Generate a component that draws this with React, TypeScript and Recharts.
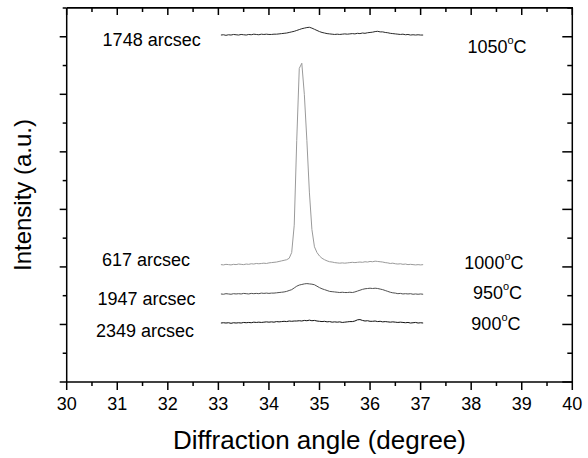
import React from 'react';
import { LineChart, Line, XAxis, YAxis, ReferenceDot, ReferenceLine } from 'recharts';

// 2-theta scan, 33.05 .. 37.05 deg
const angles = [
  33.05, 33.1, 33.15, 33.2, 33.25, 33.3, 33.35, 33.4, 33.45, 33.5,
  33.55, 33.6, 33.65, 33.7, 33.75, 33.8, 33.85, 33.9, 33.95, 34.0,
  34.05, 34.1, 34.15, 34.2, 34.25, 34.3, 34.35, 34.4, 34.45, 34.5,
  34.55, 34.6, 34.65, 34.7, 34.75, 34.8, 34.85, 34.9, 34.95, 35.0,
  35.05, 35.1, 35.15, 35.2, 35.25, 35.3, 35.35, 35.4, 35.45, 35.5,
  35.55, 35.6, 35.65, 35.7, 35.75, 35.8, 35.85, 35.9, 35.95, 36.0,
  36.05, 36.1, 36.15, 36.2, 36.25, 36.3, 36.35, 36.4, 36.45, 36.5,
  36.55, 36.6, 36.65, 36.7, 36.75, 36.8, 36.85, 36.9, 36.95, 37.0,
  37.05,
];

const i1050 = [
  12.06, 12.07, 12.05, 12.07, 12.06, 12.08, 12.07, 12.06, 12.08, 12.07,
  12.06, 12.08, 12.07, 12.09, 12.08, 12.07, 12.09, 12.08, 12.09, 12.08,
  12.08, 12.09, 12.09, 12.1, 12.11, 12.12, 12.13, 12.15, 12.17, 12.19,
  12.22, 12.25, 12.28, 12.3, 12.32, 12.33, 12.3, 12.26, 12.22, 12.18,
  12.15, 12.13, 12.11, 12.1, 12.09, 12.08, 12.09, 12.08, 12.09, 12.1,
  12.09, 12.1, 12.11, 12.1, 12.12, 12.11, 12.13, 12.12, 12.14, 12.15,
  12.16, 12.18, 12.19, 12.17, 12.17, 12.15, 12.14, 12.12, 12.11, 12.1,
  12.09, 12.08, 12.09, 12.07, 12.08, 12.06, 12.07, 12.06, 12.07, 12.06,
  12.06,
];

const i1000 = [
  4.08, 4.07, 4.09, 4.08, 4.07, 4.09, 4.08, 4.1, 4.09, 4.08,
  4.1, 4.09, 4.11, 4.1, 4.12, 4.11, 4.12, 4.13, 4.12, 4.14,
  4.15, 4.16, 4.17, 4.19, 4.21, 4.23, 4.25, 4.3, 4.5, 5.45,
  8.4, 10.9, 11.08, 10.0, 8.4, 6.6, 5.3, 4.7, 4.5, 4.38,
  4.3, 4.25, 4.21, 4.18, 4.17, 4.15, 4.14, 4.13, 4.14, 4.13,
  4.14, 4.15, 4.16, 4.15, 4.16, 4.17, 4.16, 4.18, 4.17, 4.19,
  4.18, 4.2, 4.19, 4.18, 4.17, 4.15, 4.14, 4.12, 4.13, 4.11,
  4.1, 4.11, 4.09, 4.1, 4.08, 4.09, 4.08, 4.07, 4.08, 4.07,
  4.08,
];

const i950 = [
  3.06, 3.05, 3.07, 3.06, 3.05, 3.07, 3.06, 3.07, 3.06, 3.08,
  3.07, 3.06, 3.08, 3.07, 3.08, 3.07, 3.09, 3.08, 3.09, 3.08,
  3.09, 3.09, 3.1, 3.11, 3.12, 3.13, 3.15, 3.18, 3.21, 3.27,
  3.33, 3.37, 3.39, 3.41, 3.42, 3.41, 3.4, 3.38, 3.33, 3.28,
  3.24, 3.21, 3.18, 3.15, 3.14, 3.13, 3.12, 3.11, 3.12, 3.11,
  3.11, 3.12, 3.11, 3.13, 3.16, 3.19, 3.22, 3.24, 3.25, 3.26,
  3.25, 3.26, 3.25, 3.23, 3.21, 3.18, 3.15, 3.12, 3.1, 3.09,
  3.07, 3.08, 3.06, 3.07, 3.06, 3.07, 3.05, 3.06, 3.05, 3.06,
  3.05,
];

const i900 = [
  2.05, 2.06, 2.05, 2.06, 2.04, 2.06, 2.05, 2.06, 2.05, 2.07,
  2.06, 2.07, 2.06, 2.08, 2.07, 2.08, 2.07, 2.08, 2.09, 2.08,
  2.09, 2.08, 2.1, 2.09, 2.1, 2.11, 2.1, 2.12, 2.11, 2.12,
  2.12, 2.13, 2.12, 2.14, 2.13, 2.15, 2.13, 2.14, 2.12, 2.11,
  2.1, 2.11, 2.09, 2.1, 2.08, 2.09, 2.08, 2.09, 2.07, 2.08,
  2.09, 2.1, 2.1, 2.12, 2.16, 2.17, 2.14, 2.12, 2.13, 2.11,
  2.11, 2.12, 2.1, 2.11, 2.09, 2.1, 2.09, 2.08, 2.09, 2.08,
  2.07, 2.08, 2.07, 2.06, 2.07, 2.05, 2.06, 2.07, 2.05, 2.06,
  2.05,
];

const xTicks = [
  30, 30.5, 31, 31.5, 32, 32.5, 33, 33.5, 34, 34.5, 35,
  35.5, 36, 36.5, 37, 37.5, 38, 38.5, 39, 39.5, 40,
];
const yTicks = [0, 1, 2, 3, 4, 5, 6, 7, 8, 9, 10, 11, 12, 13];

// annotations
const fwhmText = ['1748 arcsec', '617 arcsec', '1947 arcsec', '2349 arcsec'];
const fwhmAngle = [31.68, 31.57, 31.58, 31.55];
const fwhmLevel = [11.89, 4.24, 2.885, 1.77];
const tempText = ['1050', '1000', '950', '900'];
const tempAngle = [38.51, 38.45, 38.52, 38.49];
const tempLevel = [11.64, 4.14, 3.09, 2.02];

const data = angles.map((a, i) => ({
  angle: a,
  t1050: i1050[i],
  t1000: i1000[i],
  t950: i950[i],
  t900: i900[i],
}));

const FONT = 'Arial, "Liberation Sans", sans-serif';

// plot box, follows from the chart margins / axis sizes below
const W = 588;
const H = 458;
const M_TOP = 8;
const M_RIGHT = 15.7;
const X_AXIS_H = 76;
const Y_AXIS_W = 66.7;
const PLOT_TOP = M_TOP;
const PLOT_RIGHT = W - M_RIGHT;

// bottom ticks point out, the mirrored top ones point in
const BottomTick = ({ x, y, payload }: any) => {
  const major = Number.isInteger(payload.value);
  return (
    <g>
      <line x1={x} x2={x} y1={y} y2={y + (major ? 8 : 4)} stroke='#000' strokeWidth={1.5} />
      <line x1={x} x2={x} y1={PLOT_TOP} y2={PLOT_TOP + (major ? 7 : 4)} stroke='#000' strokeWidth={1.5} />
      {major && (
        <text x={x} y={y + 28} textAnchor='middle' fontSize={18} fill='#000'>
          {payload.value}
        </text>
      )}
    </g>
  );
};

// left ticks point out, the mirrored right ones point in
const LeftTick = ({ x, y, payload }: any) => {
  const major = payload.value % 2 === 0;
  return (
    <g>
      <line x1={x} x2={x - (major ? 7 : 4)} y1={y} y2={y} stroke='#000' strokeWidth={1.5} />
      <line x1={PLOT_RIGHT} x2={PLOT_RIGHT - (major ? 10 : 5)} y1={y} y2={y} stroke='#000' strokeWidth={1.5} />
    </g>
  );
};

const FwhmLabel = (text: string) => (p: any) => {
  const vb = p.viewBox || {};
  return (
    <text x={vb.x} y={vb.y} textAnchor='middle' dominantBaseline='central' fontSize={18} fill='#000'>
      {text}
    </text>
  );
};

const TempLabel = (text: string) => (p: any) => {
  const vb = p.viewBox || {};
  return (
    <text x={vb.x} y={vb.y} textAnchor='middle' dominantBaseline='central' fontSize={18} fill='#000'>
      {text}
      <tspan dy={-7} fontSize={11}>o</tspan>
      <tspan dy={7}>C</tspan>
    </text>
  );
};

export default function App() {
  return (
    <div style={{ position: 'fixed', left: 0, top: 0, width: W, height: H, background: '#fff' }}>
      <LineChart
        width={W}
        height={H}
        data={data}
        margin={{ top: M_TOP, right: M_RIGHT, bottom: 0, left: 0 }}
        style={{ fontFamily: FONT }}
      >
        <XAxis
          dataKey='angle'
          type='number'
          domain={[30, 40]}
          allowDataOverflow
          ticks={xTicks}
          interval={0}
          tickLine={false}
          tickSize={0}
          tickMargin={0}
          tick={BottomTick}
          height={X_AXIS_H}
          axisLine={{ stroke: '#000', strokeWidth: 1.5 }}
          label={{
            value: 'Diffraction angle (degree)',
            position: 'insideBottom',
            offset: 9,
            fontSize: 26,
            fill: '#000',
          }}
        />
        <YAxis
          type='number'
          domain={[0, 13]}
          allowDataOverflow
          ticks={yTicks}
          interval={0}
          tickLine={false}
          tickSize={0}
          tickMargin={0}
          tick={LeftTick}
          width={Y_AXIS_W}
          axisLine={{ stroke: '#000', strokeWidth: 1.5 }}
          label={{
            value: 'Intensity (a.u.)',
            angle: -90,
            position: 'insideLeft',
            offset: 22,
            fontSize: 24,
            fill: '#000',
            style: { textAnchor: 'middle' },
          }}
        />

        {/* top and right edges of the frame */}
        <ReferenceLine y={13} stroke='#000' strokeWidth={1.5} ifOverflow='visible' />
        <ReferenceLine x={40} stroke='#000' strokeWidth={1.5} ifOverflow='visible' />

        {/* scans */}
        <Line dataKey='t1050' stroke='#2a2a2a' strokeWidth={1} dot={false} isAnimationActive={false} />
        <Line dataKey='t1000' stroke='#9a9a9a' strokeWidth={1} dot={false} isAnimationActive={false} />
        <Line dataKey='t950' stroke='#505050' strokeWidth={1} dot={false} isAnimationActive={false} />
        <Line dataKey='t900' stroke='#111' strokeWidth={1} dot={false} isAnimationActive={false} />

        {/* FWHM and temperature labels */}
        {fwhmText.map((t, i) => (
          <ReferenceDot
            key={'f' + i}
            x={fwhmAngle[i]}
            y={fwhmLevel[i]}
            r={0}
            fill='none'
            stroke='none'
            label={{ content: FwhmLabel(t) }}
          />
        ))}
        {tempText.map((t, i) => (
          <ReferenceDot
            key={'t' + i}
            x={tempAngle[i]}
            y={tempLevel[i]}
            r={0}
            fill='none'
            stroke='none'
            label={{ content: TempLabel(t) }}
          />
        ))}
      </LineChart>
      {/* fallback for the top / right frame edges */}
      <div
        style={{
          position: 'absolute',
          left: Y_AXIS_W,
          top: PLOT_TOP - 0.75,
          width: PLOT_RIGHT - Y_AXIS_W + 0.75,
          height: H - X_AXIS_H - PLOT_TOP,
          borderTop: '1.5px solid #000',
          borderRight: '1.5px solid #000',
          boxSizing: 'border-box',
          pointerEvents: 'none',
        }}
      />
    </div>
  );
}
